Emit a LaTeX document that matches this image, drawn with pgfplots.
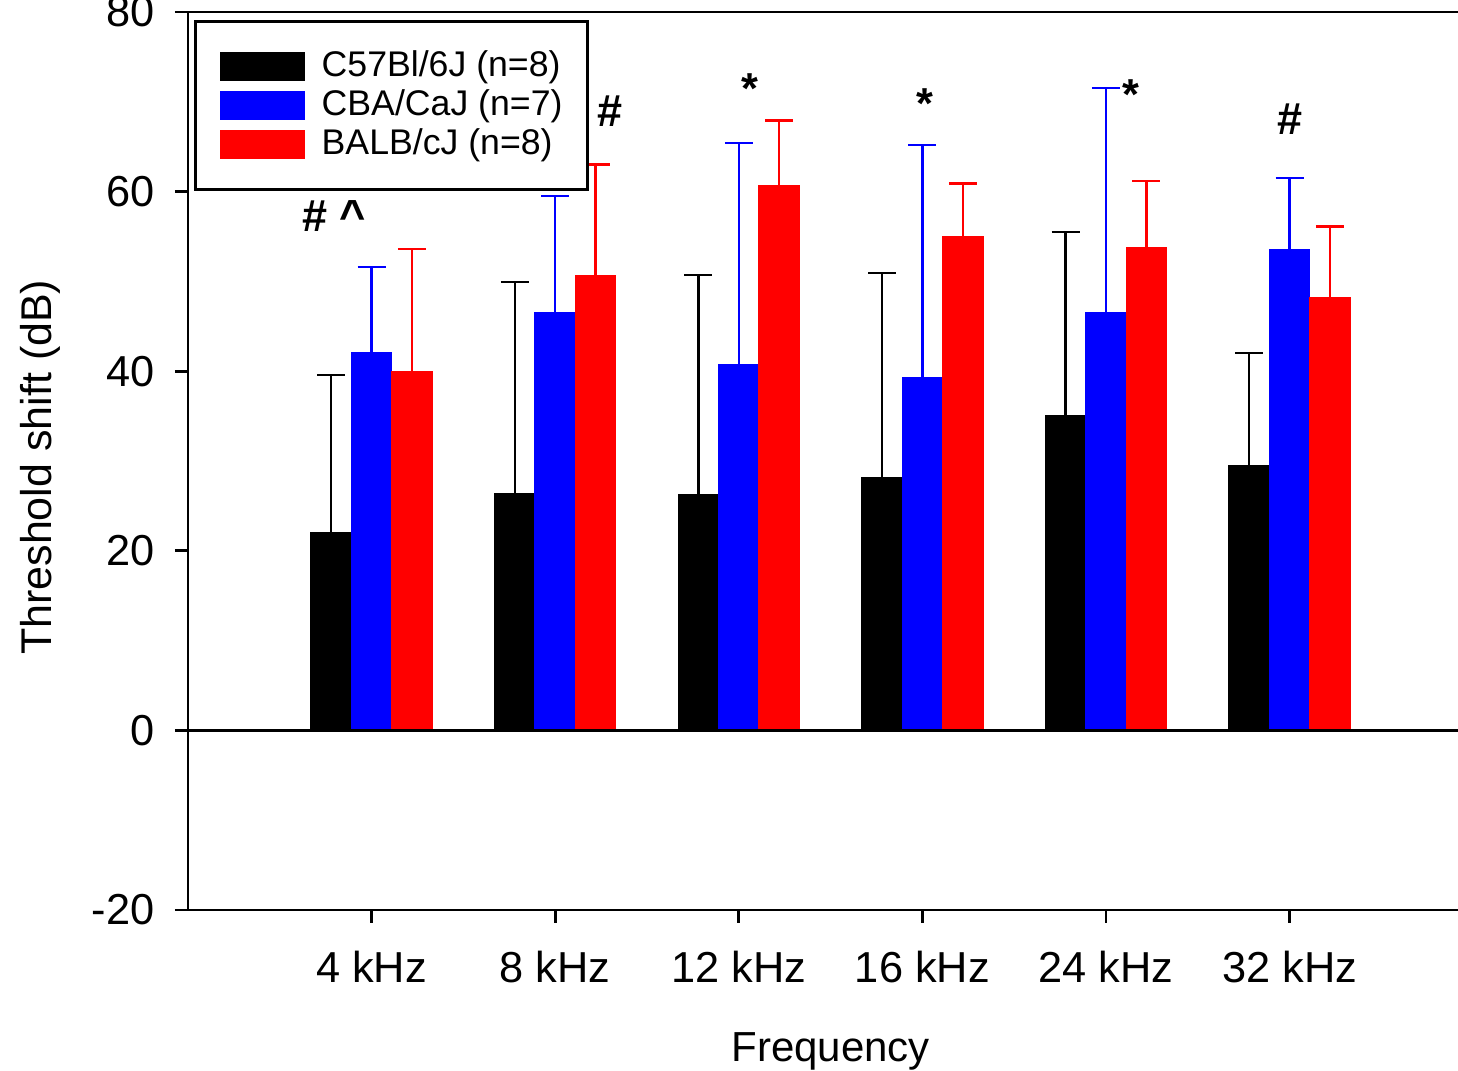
\documentclass[border=0pt]{standalone}
\usepackage{fontspec}
\setmainfont{Liberation Sans}
\usepackage{pgfplots}
\usepackage{pgfplotstable}
\pgfplotsset{compat=1.18}

\pgfplotstableread{
x y e
-0.22 22.0 17.6
0.78 26.4 23.5
1.78 26.3 24.4
2.78 28.2 22.7
3.78 35.1 20.4
4.78 29.5 12.5
}\blackdata
\pgfplotstableread{
x y e
0 42.1 9.5
1 46.5 13.0
2 40.8 24.6
3 39.3 25.9
4 46.5 25.0
5 53.6 7.9
}\bluedata
\pgfplotstableread{
x y e
0.22 40.0 13.6
1.22 50.7 12.3
2.22 60.7 7.2
3.22 55.0 5.9
4.22 53.8 7.4
5.22 48.2 7.9
}\reddata

\begin{document}
\begin{tikzpicture}
\begin{axis}[
  name=ax,
  scale only axis,
  width=385.56pt, height=269.4pt,
  xmin=-1, xmax=6, ymin=-20, ymax=80,
  ytick={-20,0,20,40,60,80},
  xtick={0,1,2,3,4,5},
  xticklabels={4 kHz,8 kHz,12 kHz,16 kHz,24 kHz,32 kHz},
  xtick pos=bottom, ytick pos=left,
  tick align=outside,
  major tick length=3.9pt,
  every tick/.style={black, line width=0.8pt},
  axis line style={line width=0.8pt},
  tick label style={font=\fontsize{13}{15}\selectfont},
  yticklabel style={xshift=-2.7pt},
  xticklabel style={yshift=-4.8pt},
  /pgf/number format/assume math mode=true,
  xlabel={Frequency}, ylabel={Threshold shift (dB)},
  label style={font=\fontsize{12.6}{15}\selectfont},
  xlabel style={at={(axis description cs:0.5,-0.157)}, anchor=center},
  ylabel style={at={(axis description cs:-0.1152,0.493)}, anchor=center, font=\fontsize{12.9}{15}\selectfont},
  legend style={at={(rel axis cs:0.0047,0.991)}, anchor=north west, draw=black, line width=0.8pt,
    inner xsep=7.5pt, inner ysep=7.65pt, font=\fontsize{10.7}{12}\selectfont,
    row sep=0pt, column sep=4.9pt,
    nodes={inner sep=0pt, minimum height=11.7pt}},
  legend cell align=left,
  legend image code/.code={\fill[#1] (0pt,-4.2pt) rectangle (25.2pt,4.2pt);},
]
\addplot[ybar, bar width=0.222, fill=black, draw=black, line width=0.3pt,
  error bars/.cd, y dir=plus, y explicit,
  error bar style={black, line width=0.7pt},
  error mark options={black, rotate=90, mark size=4.2pt, line width=0.7pt}]
  table[x=x, y=y, y error=e] {\blackdata};
\addlegendentry{C57Bl/6J (n=8)}
\addplot[ybar, bar width=0.222, fill=blue, draw=blue, line width=0.3pt,
  error bars/.cd, y dir=plus, y explicit,
  error bar style={blue, line width=0.7pt},
  error mark options={blue, rotate=90, mark size=4.2pt, line width=0.7pt}]
  table[x=x, y=y, y error=e] {\bluedata};
\addlegendentry{CBA/CaJ (n=7)}
\addplot[ybar, bar width=0.222, fill=red, draw=red, line width=0.3pt,
  error bars/.cd, y dir=plus, y explicit,
  error bar style={red, line width=0.7pt},
  error mark options={red, rotate=90, mark size=4.2pt, line width=0.7pt}]
  table[x=x, y=y, y error=e] {\reddata};
\addlegendentry{BALB/cJ (n=8)}
\draw[line width=0.8pt] (axis cs:-1,0) -- (axis cs:6,0);
\node[anchor=base west, inner sep=0pt, font=\bfseries\fontsize{13.5}{14}\selectfont] at (axis cs:-0.381,55.5) {\# \textasciicircum};
\node[anchor=base west, inner sep=0pt, font=\bfseries\fontsize{13.5}{14}\selectfont] at (axis cs:1.225,67.2) {\#};
\node[anchor=base west, inner sep=0pt, font=\bfseries\fontsize{13.5}{14}\selectfont] at (axis cs:4.929,66.4) {\#};
\node[anchor=north, inner sep=0pt, font=\bfseries\fontsize{13}{14}\selectfont] at (axis cs:2.059,73.2) {*};
\node[anchor=north, inner sep=0pt, font=\bfseries\fontsize{13}{14}\selectfont] at (axis cs:3.012,71.5) {*};
\node[anchor=north, inner sep=0pt, font=\bfseries\fontsize{13}{14}\selectfont] at (axis cs:4.134,72.5) {*};
\end{axis}
\pgfresetboundingbox
\path[use as bounding box] ([shift={(-56.4pt,3.6pt)}]ax.north west) rectangle ++(437.4pt,-321.3pt);
\end{tikzpicture}
\end{document}
